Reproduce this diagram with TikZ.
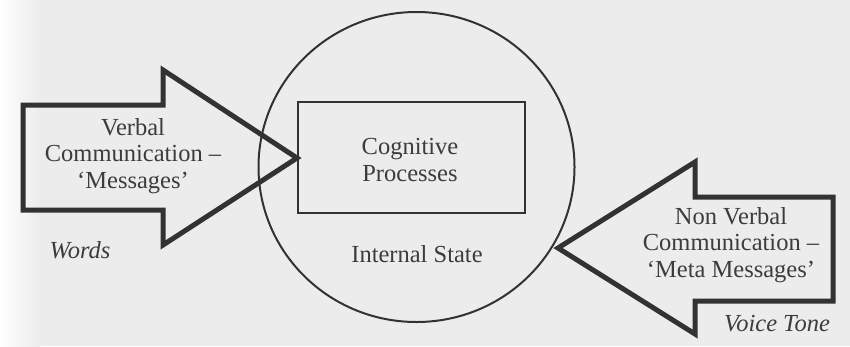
\documentclass[tikz,border=0pt]{standalone}
\usepackage{fontspec}
\setmainfont{Liberation Serif}
\definecolor{bg}{RGB}{236,236,236}
\definecolor{ink}{RGB}{50,50,50}
\definecolor{txt}{RGB}{60,60,60}
\begin{document}
\begin{tikzpicture}[x=1pt,y=-1pt,
  bigarrow/.style={draw=ink,line width=5pt,line join=miter,fill=none},
  label/.style={text=txt,font=\fontsize{24.5}{26.5}\selectfont,align=center,inner sep=0pt},
  itlabel/.style={label,font=\fontsize{24.5}{26.5}\selectfont\itshape}]
\fill[bg] (0,0) rectangle (850,346);
\shade[left color=white,right color=bg] (0,0) rectangle (40,346);
\useasboundingbox (0,0) rectangle (850,346);
% circle (internal state)
\draw[ink,line width=2pt] (416.5,167) ellipse [x radius=158,y radius=155];
\node[draw=ink,line width=2.7pt,minimum width=227pt,minimum height=111pt,inner sep=0pt] (cog) at (411.5,157.5) {};
\node[label] (cogt) at (410,160) {Cognitive\\Processes};
\node[label] (state) at (417,254) {Internal State};
% left arrow
\draw[bigarrow] (23,105) -- (163,105) -- (163,70) -- (297,158) -- (163,245) -- (163,210) -- (23,210) -- cycle;
\node[label] (verbal) at (133,156) {Verbal\\Communication –\\‘Messages’};
\node[itlabel] (words) at (80,250) {Words};
% right arrow
\draw[bigarrow] (833,197) -- (695,197) -- (695,162) -- (558,248) -- (695,334) -- (695,301) -- (833,301) -- cycle;
\node[label] (nonverbal) at (731,245) {Non Verbal\\Communication –\\‘Meta Messages’};
\node[itlabel] (tone) at (777,324) {Voice Tone};
\end{tikzpicture}
\end{document}
